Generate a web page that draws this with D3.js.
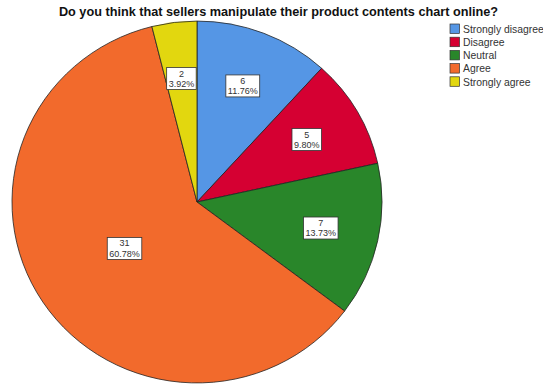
<!DOCTYPE html>
<html>
<head>
<meta charset="utf-8">
<script src="https://cdn.jsdelivr.net/npm/d3@7"></script>
<style>
  body { margin: 0; background: #fff; }
  svg { display: block; font-family: "Liberation Sans", Arial, sans-serif; }
</style>
</head>
<body>
<svg id="chart" width="543" height="385"></svg>
<script>
// survey answers
var categories = ["Strongly disagree", "Disagree", "Neutral", "Agree", "Strongly agree"];
var counts = [6, 5, 7, 31, 2];
var colors = ["#5596e5", "#d50032", "#29862a", "#f26a2c", "#e2d70f"];

var width = 543, height = 385;
var cx = 197, cy = 202, r = 185;

var svg = d3.select("#chart");
var total = d3.sum(counts);

svg.append("text")
  .attr("x", 278.5).attr("y", 16)
  .attr("text-anchor", "middle")
  .style("font-size", "12.7px").style("font-weight", "bold").style("fill", "#111")
  .text("Do you think that sellers manipulate their product contents chart online?");

var color = d3.scaleOrdinal().domain(categories).range(colors);

var pie = d3.pie().sort(null).value(function(d) { return d.value; });
var data = pie(categories.map(function(c, i) { return { name: c, value: counts[i] }; }));

var arc = d3.arc().innerRadius(0).outerRadius(r);

// slight vertical squash, as in the reference
var g = svg.append("g").attr("transform", "translate(" + cx + "," + cy + ") scale(1,0.978)");

g.selectAll("path.slice")
  .data(data)
  .enter().append("path")
    .attr("class", "slice")
    .attr("d", arc)
    .attr("fill", function(d) { return color(d.data.name); })
    .attr("stroke", "#222")
    .attr("stroke-width", 0.8);

var labels = svg.append("g").attr("transform", "translate(" + cx + "," + cy + ")");

var label = labels.selectAll("g.lbl")
  .data(data)
  .enter().append("g")
    .attr("class", "lbl")
    .attr("transform", function(d) {
      var share = d.value / total;
      var lr = share > 0.5 ? r * 0.47 : r * 0.685;
      var a = (d.startAngle + d.endAngle) / 2;
      return "translate(" + (lr * Math.sin(a)) + "," + (-lr * Math.cos(a) * 0.978) + ")";
    });

label.each(function(d) {
  var sel = d3.select(this);
  var pct = (d.value / total * 100).toFixed(2) + "%";
  var t1 = sel.append("text").attr("text-anchor", "middle").attr("y", -2.5)
    .style("font-size", "9px").style("fill", "#333").text(d.value);
  var t2 = sel.append("text").attr("text-anchor", "middle").attr("y", 7.8)
    .style("font-size", "9px").style("fill", "#333").text(pct);
  var w = Math.max(t1.node().getComputedTextLength(), t2.node().getComputedTextLength()) + 4;
  sel.insert("rect", "text")
    .attr("x", -w / 2).attr("y", -11.5)
    .attr("width", w).attr("height", 22)
    .attr("fill", "#fff").attr("stroke", "#333").attr("stroke-width", 0.8);
});

var legend = svg.append("g").attr("transform", "translate(450,24)");
var item = legend.selectAll("g")
  .data(categories)
  .enter().append("g")
    .attr("transform", function(d, i) { return "translate(0," + (i * 13.2) + ")"; });

item.append("rect")
  .attr("width", 9.5).attr("height", 9.5)
  .attr("fill", function(d) { return color(d); })
  .attr("stroke", "#333").attr("stroke-width", 0.7);

item.append("text")
  .attr("x", 13).attr("y", 8.8)
  .style("font-size", "10.4px").style("fill", "#333")
  .text(function(d) { return d; });
</script>
</body>
</html>
